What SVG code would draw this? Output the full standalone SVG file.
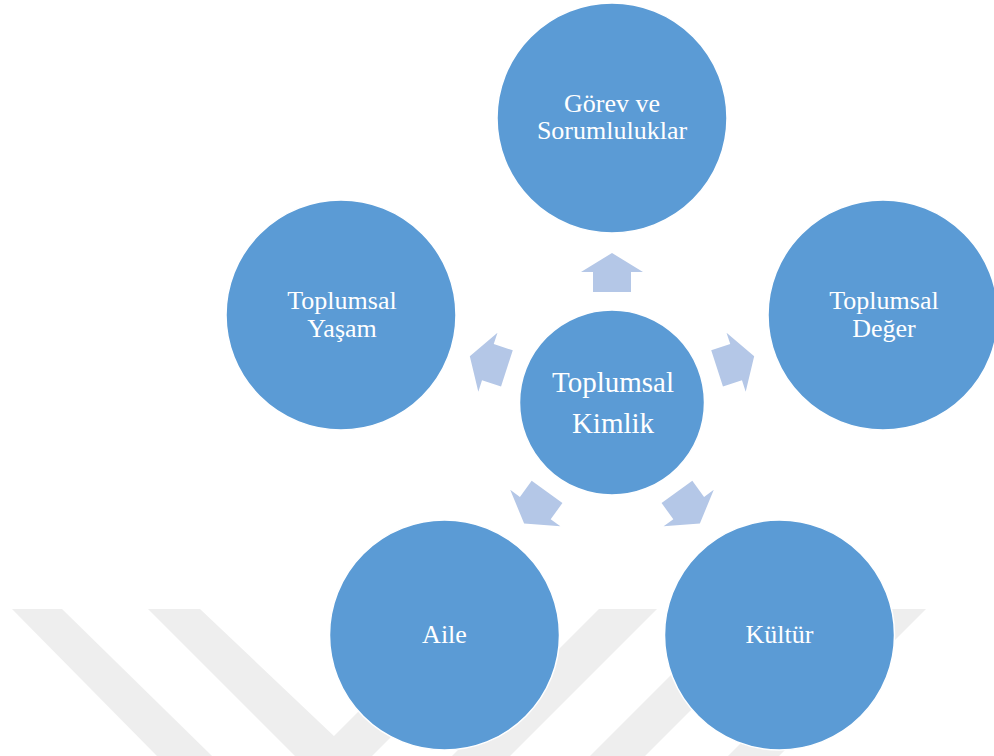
<svg xmlns="http://www.w3.org/2000/svg" width="994" height="756" viewBox="0 0 994 756">
<defs>
<style>
.node{fill:#5B9BD5;stroke:#FFFFFF;stroke-width:1.5}
.lbl{fill:#FFFFFF;font-family:"Liberation Serif","Times New Roman",serif;font-size:26px;text-anchor:middle}
.lbl-c{font-size:29px}
.arr{fill:#B4C7E7}
.wm{fill:#EEEEEE}
</style>
<path id="arrowShape" d="M612 253 L643 272 L631 272 L631 292 L593 292 L593 272 L581 272 Z"/>
</defs>
<rect width="994" height="756" fill="#FFFFFF"/>
<g id="watermark">
<polygon class="wm" points="12,609 62,609 212,756 157,756"/>
<polygon class="wm" points="148,609 200,609 355,756 295,756"/>
<polygon class="wm" points="461,609 519,609 372,756 314,756"/>
<polygon class="wm" points="599,609 657,609 510,756 452,756"/>
<polygon class="wm" points="737,609 792,609 645,756 590,756"/>
<polygon class="wm" points="875,609 926,609 779,756 728,756"/>
</g>
<g id="connectors">
<use href="#arrowShape" class="arr"/>
<use href="#arrowShape" class="arr" transform="rotate(72 612 402.5)"/>
<use href="#arrowShape" class="arr" transform="rotate(144 612 402.5)"/>
<use href="#arrowShape" class="arr" transform="rotate(-144 612 402.5)"/>
<use href="#arrowShape" class="arr" transform="rotate(-72 612 402.5)"/>
</g>
<g id="node-center">
<circle class="node" cx="612" cy="402.5" r="92.5"/>
<text class="lbl lbl-c" x="613" y="392">Toplumsal</text>
<text class="lbl lbl-c" x="613" y="433">Kimlik</text>
</g>
<g id="node-gorev">
<circle class="node" cx="612" cy="118" r="115"/>
<text class="lbl" x="612" y="112">Görev ve</text>
<text class="lbl" x="612" y="139">Sorumluluklar</text>
</g>
<g id="node-deger">
<circle class="node" cx="883" cy="315" r="115"/>
<text class="lbl" x="884" y="309">Toplumsal</text>
<text class="lbl" x="884" y="337">Değer</text>
</g>
<g id="node-kultur">
<circle class="node" cx="779.5" cy="635" r="115"/>
<text class="lbl" x="779.5" y="643">Kültür</text>
</g>
<g id="node-aile">
<circle class="node" cx="444.5" cy="635" r="115"/>
<text class="lbl" x="444.5" y="643">Aile</text>
</g>
<g id="node-yasam">
<circle class="node" cx="341" cy="315" r="115"/>
<text class="lbl" x="342" y="309">Toplumsal</text>
<text class="lbl" x="342" y="337">Yaşam</text>
</g>
</svg>
